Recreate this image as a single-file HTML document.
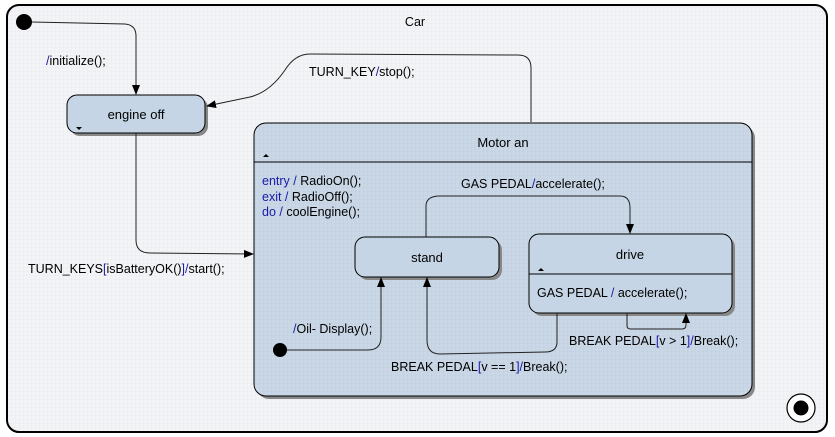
<!DOCTYPE html>
<html><head><meta charset="utf-8"><style>
html,body{margin:0;padding:0;background:#fff;}
svg{display:block;font-family:"Liberation Sans",sans-serif;font-size:12.5px;}
.b{fill:#1a1aa8}
</style></head><body>
<svg width="835" height="437" viewBox="0 0 835 437" xmlns="http://www.w3.org/2000/svg">
<defs>
<pattern id="g" width="4" height="4" patternUnits="userSpaceOnUse"><rect width="4" height="4" fill="#f3f4f6"/><path d="M4 0V4M0 4H4" stroke="#e4e7ec" stroke-width="0.6"/></pattern>
<pattern id="g2" width="4" height="4" patternUnits="userSpaceOnUse"><rect width="4" height="4" fill="#c9d7e6"/><path d="M4 0V4M0 4H4" stroke="#bccbdb" stroke-width="0.6"/></pattern>
<marker id="a" markerWidth="10" markerHeight="8" refX="9" refY="4" orient="auto" markerUnits="userSpaceOnUse"><path d="M0 0L10 4L0 8Z" fill="#000"/></marker>
</defs>
<rect x="0" y="0" width="835" height="437" fill="#fff"/>
<rect x="7" y="5" width="820" height="427" rx="12" fill="url(#g)" stroke="#000" stroke-width="2"/>
<text x="415" y="26" text-anchor="middle">Car</text>
<circle cx="24" cy="22" r="8" fill="#000"/>
<path d="M32 22 L125 24 Q136 25 136 36 L136 94" fill="none" stroke="#222" stroke-width="1" marker-end="url(#a)"/>
<text x="46" y="65"><tspan class="b">/</tspan>initialize();</text>
<rect x="70" y="98" width="138" height="38" rx="10" fill="#888"/>
<rect x="67" y="95" width="138" height="38" rx="10" fill="#c5d5e5" stroke="#000"/>
<text x="136" y="119" text-anchor="middle" font-size="13">engine off</text>
<path d="M76 127 L82 127 L79 130Z" fill="#000"/>
<path d="M531 122 L531 68 Q531 55 518 55 L310 54 Q295 54 285 70 Q270 92 250 97 L207 106" fill="none" stroke="#222" marker-end="url(#a)"/>
<text x="309" y="76">TURN_KEY<tspan class="b">/</tspan>stop();</text>
<path d="M136 133 L136 240 Q136 253 150 253 L253 254" fill="none" stroke="#222" marker-end="url(#a)"/>
<text x="28" y="273">TURN_KEYS<tspan class="b">[</tspan>isBatteryOK()<tspan class="b">]/</tspan>start();</text>
<rect x="257" y="126" width="498" height="273" rx="12" fill="#888"/>
<rect x="254" y="123" width="498" height="273" rx="12" fill="url(#g2)" stroke="#000"/>
<path d="M254 162 H752" stroke="#000"/>
<text x="503" y="147" text-anchor="middle" font-size="13">Motor an</text>
<path d="M263 157 L269 157 L266 154Z" fill="#000"/>
<text x="262" y="185"><tspan class="b">entry /</tspan> RadioOn();</text>
<text x="262" y="201"><tspan class="b">exit /</tspan> RadioOff();</text>
<text x="262" y="216"><tspan class="b">do /</tspan> coolEngine();</text>
<rect x="358" y="240" width="144" height="40" rx="10" fill="#888"/>
<rect x="355" y="237" width="144" height="40" rx="10" fill="#c5d5e5" stroke="#000"/>
<text x="427" y="262" text-anchor="middle" font-size="13">stand</text>
<rect x="532" y="237" width="203" height="79" rx="10" fill="#888"/>
<rect x="529" y="234" width="203" height="79" rx="10" fill="#c5d5e5" stroke="#000"/>
<path d="M529 274 H732" stroke="#000"/>
<text x="630" y="259" text-anchor="middle" font-size="13">drive</text>
<path d="M538 271 L544 271 L541 268Z" fill="#000"/>
<text x="537" y="297">GAS PEDAL <tspan class="b">/</tspan> accelerate();</text>
<path d="M426 237 L426 206 Q426 196 440 196 L620 196 Q630 196 630 208 L630 233" fill="none" stroke="#222" marker-end="url(#a)"/>
<text x="461" y="188">GAS PEDAL<tspan class="b">/</tspan>accelerate();</text>
<path d="M557 313 L557 342 Q557 352 545 352 L440 354 Q427 354 427 340 L427 278" fill="none" stroke="#222" marker-end="url(#a)"/>
<text x="391" y="371">BREAK PEDAL<tspan class="b">[</tspan>v == 1<tspan class="b">]/</tspan>Break();</text>
<path d="M627 313 L627 326 Q627 329 631 329 L682 329 Q686 329 686 325 L686 314" fill="none" stroke="#222" marker-end="url(#a)"/>
<text x="569" y="345">BREAK PEDAL<tspan class="b">[</tspan>v &gt; 1<tspan class="b">]/</tspan>Break();</text>
<circle cx="280" cy="350" r="7" fill="#000"/>
<path d="M287 350 L368 350 Q381 350 381 337 L381 278" fill="none" stroke="#222" marker-end="url(#a)"/>
<text x="293" y="333"><tspan class="b">/</tspan>Oil- Display();</text>
<circle cx="801" cy="408" r="14" fill="#fff" stroke="#000" stroke-width="1.2"/>
<circle cx="801" cy="408" r="7.5" fill="#000"/>
</svg>
</body></html>
